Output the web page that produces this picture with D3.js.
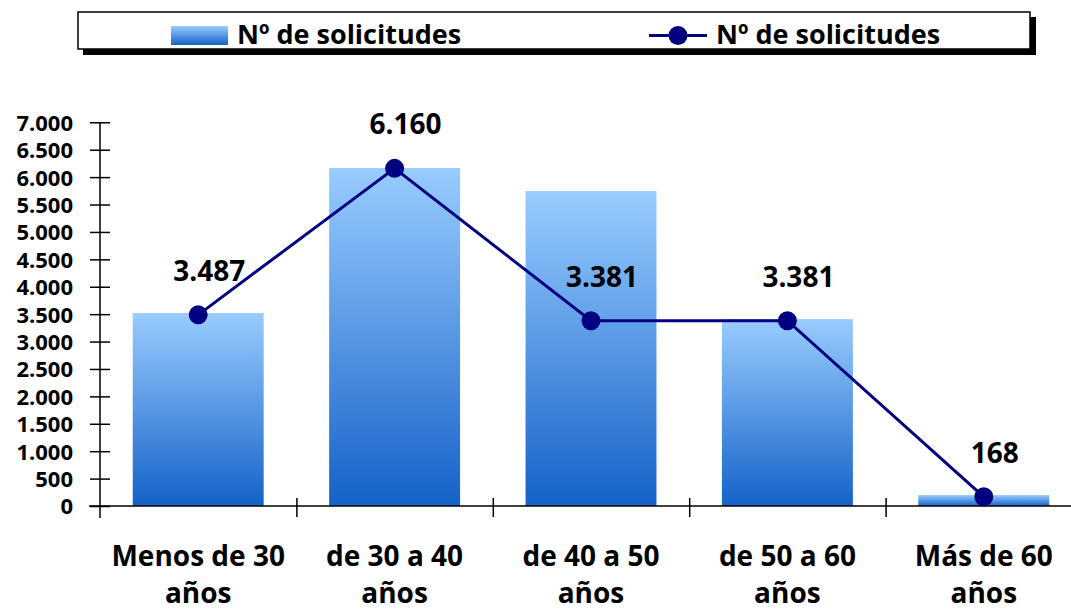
<!DOCTYPE html>
<html>
<head>
<meta charset="utf-8">
<script src="https://cdn.jsdelivr.net/npm/d3@7"></script>
<style>
  html, body { margin: 0; padding: 0; background: #fff; }
  svg { display: block; font-family: "Open Sans", sans-serif; font-weight: bold; }
</style>
</head>
<body>
<div class="Chart"></div>
<script>
// chart data
const categories = ['Menos de 30 años', 'de 30 a 40 años', 'de 40 a 50 años', 'de 50 a 60 años', 'Más de 60 años'];
const barValues = [3520, 6165, 5745, 3410, 200];
const lineValues = [3487, 6160, 3381, 3381, 168];
const yTicks = [0, 500, 1000, 1500, 2000, 2500, 3000, 3500, 4000, 4500, 5000, 5500, 6000, 6500, 7000];
const seriesName = 'Nº de solicitudes';

const width = 1071, height = 610;
const fmt = v => d3.format(',')(v).replace(/,/g, '.');

const svg = d3.select('.Chart').append('svg')
  .attr('width', width).attr('height', height)
  .attr('viewBox', `0 0 ${width} ${height}`);

const defs = svg.append('defs');
const grad = defs.append('linearGradient')
  .attr('id', 'barGrad').attr('x1', 0).attr('y1', 0).attr('x2', 0).attr('y2', 1);
grad.append('stop').attr('offset', '0%').attr('stop-color', '#99ccff');
grad.append('stop').attr('offset', '100%').attr('stop-color', '#1462c8');

const y = d3.scaleLinear().domain([0, 7000]).range([506, 122.3]);
const x = d3.scaleBand().domain(categories).range([100, 1082])
  .paddingInner(1 / 3).paddingOuter(1 / 6);
const xIdx = d3.scaleLinear().domain([0, categories.length]).range([100, 1082]);

// bars
svg.selectAll('.Col')
  .data(barValues)
  .enter().append('rect')
  .attr('class', 'Col')
  .attr('x', (d, i) => x(categories[i]))
  .attr('width', x.bandwidth())
  .attr('y', d => y(d))
  .attr('height', d => y(0) - y(d))
  .attr('fill', 'url(#barGrad)');

// y axis
const yAxis = svg.append('g').attr('transform', 'translate(100,0)')
  .call(d3.axisLeft(y).tickValues(yTicks).tickFormat(fmt).tickSize(10));
yAxis.select('.domain').remove();
yAxis.selectAll('line').attr('x1', 10).attr('x2', -10).attr('stroke', '#000').attr('stroke-width', 1.5);
yAxis.selectAll('text').attr('x', -27).attr('dy', '0.36em')
  .style('font-size', '22px').style('font-family', '"Open Sans", sans-serif').style('font-weight', 'bold')
  .attr('fill', '#000');
svg.append('line').attr('x1', 100).attr('x2', 100).attr('y1', y(7000)).attr('y2', 518)
  .attr('stroke', '#000').attr('stroke-width', 1.5);

// x axis
const xAxis = svg.append('g').attr('transform', `translate(0,${y(0)})`)
  .call(d3.axisBottom(xIdx).tickValues(d3.range(1, categories.length + 1)).tickFormat('').tickSize(11));
xAxis.select('.domain').remove();
xAxis.selectAll('line').attr('y1', -8).attr('y2', 11).attr('stroke', '#000').attr('stroke-width', 1.5);
svg.append('line').attr('x1', 89).attr('x2', width).attr('y1', y(0)).attr('y2', y(0))
  .attr('stroke', '#000').attr('stroke-width', 1.5);

// category labels (two lines)
const catLabels = svg.append('g').selectAll('text')
  .data(categories)
  .enter().append('text')
  .attr('text-anchor', 'middle')
  .attr('x', d => x(d) + x.bandwidth() / 2)
  .attr('y', 566)
  .style('font-size', '28px')
  .attr('fill', '#000');
catLabels.each(function (d) {
  const words = d.split(' ');
  const last = words.pop();
  const t = d3.select(this);
  t.append('tspan').attr('x', t.attr('x')).text(words.join(' '));
  t.append('tspan').attr('x', t.attr('x')).attr('dy', 37).text(last);
});

// line series
const cx = (d, i) => x(categories[i]) + x.bandwidth() / 2;
const line = d3.line().x(cx).y(d => y(d));
svg.append('path').datum(lineValues)
  .attr('d', line).attr('fill', 'none')
  .attr('stroke', '#000080').attr('stroke-width', 3);
svg.selectAll('.Pt').data(lineValues)
  .enter().append('circle').attr('class', 'Pt')
  .attr('cx', cx).attr('cy', d => y(d)).attr('r', 9.5)
  .attr('fill', '#000080');

// data labels
svg.selectAll('.Lbl').data(lineValues)
  .enter().append('text').attr('class', 'Lbl')
  .attr('text-anchor', 'middle')
  .attr('x', (d, i) => cx(d, i) + 11)
  .attr('y', d => y(d) - 34)
  .style('font-size', '28px')
  .attr('fill', '#000')
  .text(fmt);

// legend
const lg = svg.append('g');
lg.append('rect').attr('x', 83).attr('y', 17).attr('width', 953).attr('height', 38).attr('fill', '#000');
lg.append('rect').attr('x', 78).attr('y', 12).attr('width', 952).attr('height', 37)
  .attr('fill', '#fff').attr('stroke', '#000').attr('stroke-width', 1.5);
lg.append('rect').attr('x', 171).attr('y', 26).attr('width', 57).attr('height', 19).attr('fill', 'url(#barGrad)');
lg.append('text').attr('x', 237).attr('y', 44).style('font-size', '27px').attr('fill', '#000').text(seriesName);
lg.append('line').attr('x1', 649).attr('x2', 707).attr('y1', 35.5).attr('y2', 35.5)
  .attr('stroke', '#000080').attr('stroke-width', 3);
lg.append('circle').attr('cx', 678).attr('cy', 35.5).attr('r', 9.5).attr('fill', '#000080');
lg.append('text').attr('x', 716).attr('y', 44).style('font-size', '27px').attr('fill', '#000').text(seriesName);
</script>
</body>
</html>
